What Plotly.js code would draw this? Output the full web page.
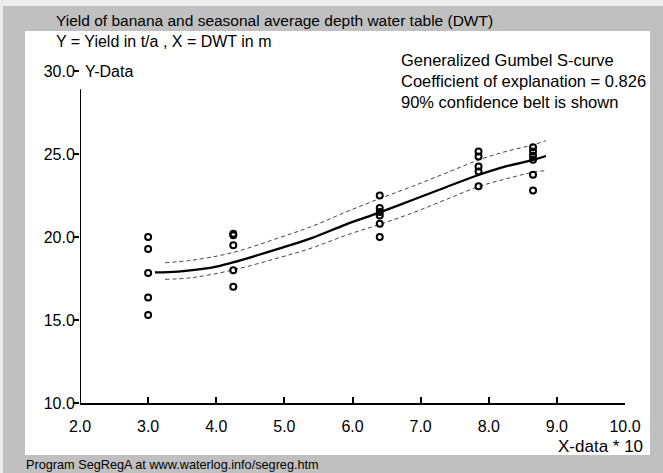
<!DOCTYPE html>
<html><head><meta charset="utf-8">
<script src="https://cdn.plot.ly/plotly-3.0.1.min.js"></script>
<style>body{margin:0;padding:0;background:#fff}</style>
</head><body>
<div id="chart" style="width:663px;height:473px"></div>
<script>
// Observed data (X = DWT*10, Y = yield t/a)
const obsX = [3.0,3.0,3.0,3.0,3.0, 4.25,4.25,4.25,4.25,4.25, 6.4,6.4,6.4,6.4,6.4,6.4, 7.85,7.85,7.85,7.85,7.85, 8.65,8.65,8.65,8.65,8.65,8.65];
const obsY = [20.0,19.28,17.83,16.35,15.3, 20.2,20.1,19.5,18.0,17.0, 22.5,21.75,21.5,21.3,20.8,20.0, 25.15,24.85,24.25,23.95,23.05, 25.4,25.15,24.9,24.65,23.75,22.8];
// Fitted generalized Gumbel S-curve
const curveX = [3.10,3.44,3.93,4.23,4.92,5.41,5.90,6.39,6.88,7.37,7.86,8.25,8.65,8.84];
const curveY = [17.87,17.92,18.15,18.45,19.3,19.95,20.75,21.47,22.23,23.0,23.75,24.25,24.64,24.88];
// 90% confidence belt
const beltX = [3.25,3.64,4.23,4.92,5.41,5.90,6.39,6.88,7.37,7.86,8.25,8.65,8.84];
const beltUpper = [18.45,18.6,19.05,19.95,20.65,21.5,22.3,23.05,23.85,24.65,25.15,25.55,25.8];
const beltLower = [17.45,17.55,18.0,18.75,19.35,20.1,20.75,21.45,22.25,23.05,23.5,23.9,24.0];
const xTicks = [2,3,4,5,6,7,8,9,10];
const yTicks = [10,15,20,25,30];

// pixel -> paper helpers (plot area 80..625 x, 71..403 y)
const L=80, R=625, T=71, B=403;
const px = x => (x-L)/(R-L);
const py = y => (B-y)/(B-T);
const FONT = 'Liberation Sans, Arial, sans-serif';

const traces = [
  {x: beltX, y: beltUpper, mode:'lines', line:{color:'#444', width:1, dash:'4px,3px', shape:'spline'}, hoverinfo:'skip'},
  {x: beltX, y: beltLower, mode:'lines', line:{color:'#444', width:1, dash:'4px,3px', shape:'spline'}, hoverinfo:'skip'},
  {x: curveX, y: curveY, mode:'lines', line:{color:'#000', width:2.3, shape:'spline'}},
  {x: obsX, y: obsY, mode:'markers', marker:{symbol:'circle-open', size:6, color:'#000', line:{width:2, color:'#000'}}}
];

const ann = (text, x, y, opts={}) => Object.assign({
  text, xref:'paper', yref:'paper', x:px(x), y:py(y), showarrow:false,
  xanchor:'left', yanchor:'middle', font:{family:FONT, size:16, color:'#000'}
}, opts);

const layout = {
  width:663, height:473,
  margin:{l:L, r:663-R, t:T, b:473-B},
  paper_bgcolor:'#ececec', plot_bgcolor:'#fff',
  showlegend:false,
  xaxis:{range:[2,10], tickvals:xTicks, tickformat:'.1f', showgrid:false, zeroline:false,
    showline:true, linecolor:'#000', linewidth:2, ticks:'inside', ticklen:6, tickwidth:2, tickcolor:'#000',
    ticklabelstandoff:8, tickfont:{family:FONT, size:16, color:'#000'}},
  yaxis:{range:[10,30], tickvals:yTicks, tickformat:'.1f', showgrid:false, zeroline:false,
    showline:false, ticks:'outside', ticklen:5, tickwidth:2, tickcolor:'#000',
    ticklabelstandoff:-4, tickfont:{family:FONT, size:16, color:'#000'}},
  shapes:[
    {type:'rect', xref:'paper', yref:'paper', x0:px(3), x1:px(663), y0:py(6), y1:py(473), fillcolor:'#c0c0c0', line:{width:0}, layer:'below'},
    {type:'rect', xref:'paper', yref:'paper', x0:px(25), x1:px(650), y0:py(31), y1:py(455), fillcolor:'#fff', line:{width:0}, layer:'below'},
    {type:'line', xref:'x', yref:'y', x0:2, x1:2, y0:10, y1:28.9, line:{color:'#000', width:2}}
  ],
  annotations:[
    ann('Yield of banana and seasonal average depth water table (DWT)', 54, 20, {font:{family:FONT, size:15.5, color:'#000'}}),
    ann('Y = Yield in t/a , X = DWT in m', 54, 41),
    ann('Y-Data', 83, 71),
    ann('Generalized Gumbel S-curve', 399, 60, {font:{family:FONT, size:16.5, color:'#000'}}),
    ann('Coefficient of explanation = 0.826', 399, 81, {font:{family:FONT, size:16.5, color:'#000'}}),
    ann('90% confidence belt is shown', 399, 102, {font:{family:FONT, size:16.5, color:'#000'}}),
    ann('X-data * 10', 645, 446, {xanchor:'right', font:{family:FONT, size:17, color:'#000'}}),
    ann('Program SegRegA at www.waterlog.info/segreg.htm', 24, 465, {font:{family:FONT, size:12.7, color:'#000'}})
  ]
};

Plotly.newPlot('chart', traces, layout, {displayModeBar:false, staticPlot:true});
</script>
</body></html>
